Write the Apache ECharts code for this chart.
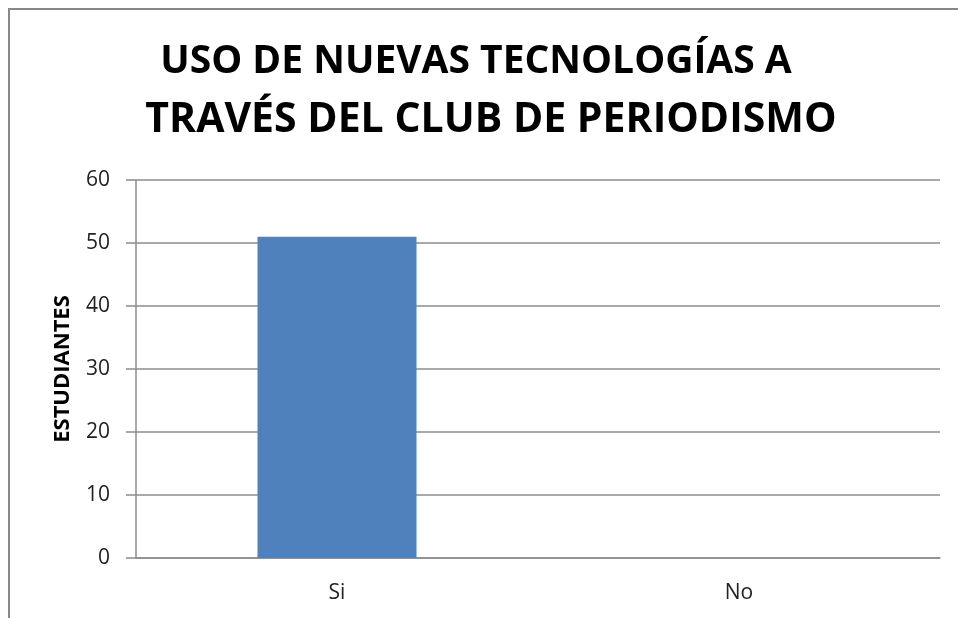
<!DOCTYPE html>
<html>
<head>
<meta charset="utf-8">
<script src="https://cdn.jsdelivr.net/npm/echarts@6/dist/echarts.min.js"></script>
<style>
  html, body { margin: 0; padding: 0; background: #fff; }
  #chart { width: 958px; height: 618px; }
</style>
</head>
<body>
<div id="chart"></div>
<script>
// datos del grafico
const titleLines = ["USO DE NUEVAS TECNOLOGÍAS A", "TRAVÉS DEL CLUB DE PERIODISMO"];
const categories = ["Si", "No"];
const estudiantes = [51, 0];
const yName = "ESTUDIANTES";

const myChart = echarts.init(document.getElementById("chart"));
const font = "'Open Sans', 'Noto Sans', sans-serif";

// cada linea del titulo va un poco corrida, como en el original
const titleCenters = [471, 486];
const titleTops = [37, 95];
const titleSizes = [39, 41];

const option = {
  animation: false,
  title: titleLines.map((t, i) => ({
    text: t,
    left: titleCenters[i],
    top: titleTops[i],
    textAlign: "center",
    textStyle: {
      fontFamily: font,
      fontWeight: "bold",
      fontSize: titleSizes[i],
      lineHeight: 40,
      color: "#000"
    }
  })),
  graphic: [
    {
      type: "rect",
      shape: { x: 9, y: 9, width: 1000, height: 700 },
      style: { fill: "none", stroke: "#888", lineWidth: 2 },
      silent: true
    }
  ],
  grid: {
    left: 136,
    right: 18,
    top: 180,
    bottom: 60
  },
  xAxis: {
    type: "category",
    data: categories,
    axisLine: { lineStyle: { color: "#8c8c8c", width: 1.5 } },
    axisTick: { show: false },
    axisLabel: {
      fontFamily: font,
      fontSize: 21,
      color: "#222",
      margin: 25
    }
  },
  yAxis: {
    type: "value",
    min: 0,
    max: 60,
    interval: 10,
    name: yName,
    nameLocation: "middle",
    nameGap: 62,
    nameTextStyle: {
      fontFamily: font,
      fontWeight: "bold",
      fontSize: 22,
      color: "#000"
    },
    axisLine: { show: true, lineStyle: { color: "#8c8c8c", width: 1.5 } },
    axisTick: { show: true, length: 10, lineStyle: { color: "#8c8c8c", width: 1.5 } },
    splitLine: { lineStyle: { color: "#8c8c8c", width: 1.5 } },
    axisLabel: {
      fontFamily: font,
      fontSize: 21,
      color: "#222",
      margin: 26
    }
  },
  series: [
    {
      type: "bar",
      data: estudiantes,
      barWidth: 159,
      itemStyle: { color: "#4f81bd" }
    }
  ]
};

myChart.setOption(option);
</script>
</body>
</html>
